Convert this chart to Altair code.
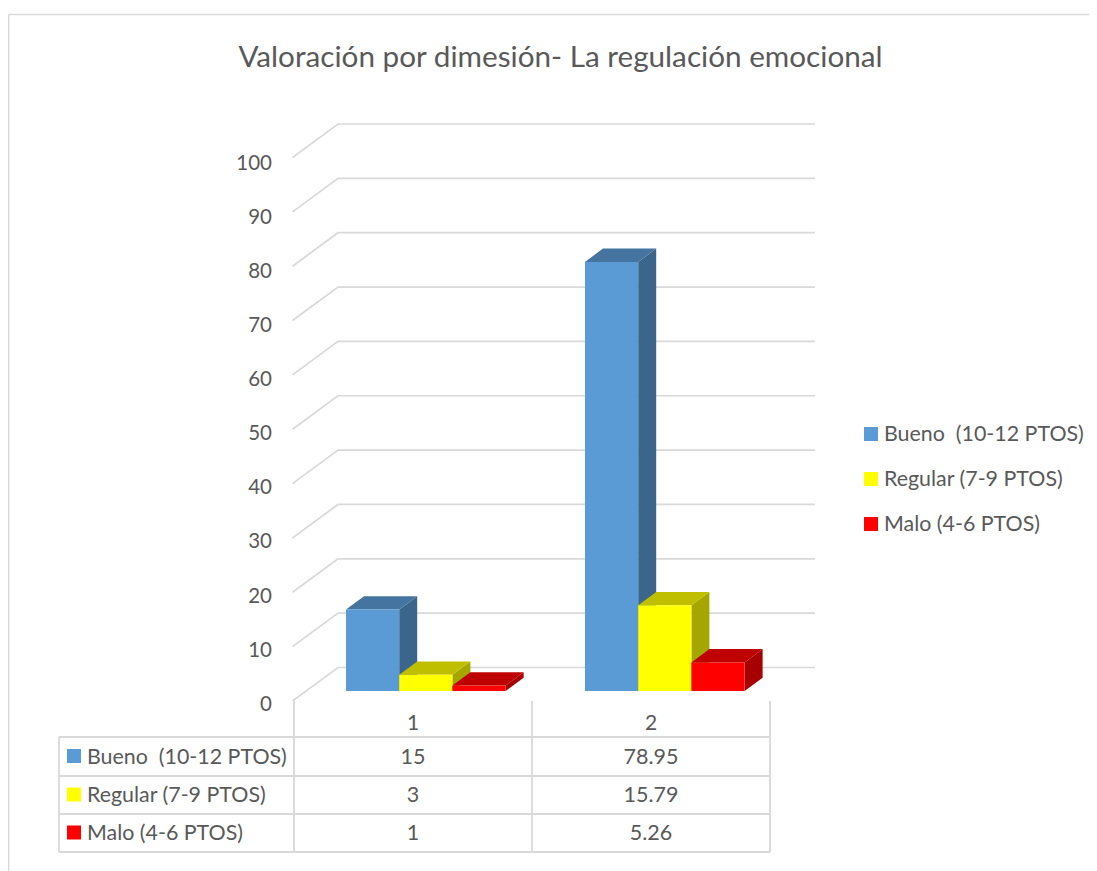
import altair as alt
import pandas as pd

TITLE = "Valoración por dimesión- La regulación emocional"
CATEGORIES = ["1", "2"]
SERIES = ["Bueno \u00a0(10-12 PTOS)", "Regular (7-9 PTOS)", "Malo (4-6 PTOS)"]
VALUES = [[15, 78.95], [3, 15.79], [1, 5.26]]
VALUE_LABELS = [["15", "78.95"], ["3", "15.79"], ["1", "5.26"]]
TICKS = list(range(0, 101, 10))
FRONT = ["#5B9BD5", "#FFFF00", "#FF0000"]
TOP = ["#44749F", "#BFBF00", "#BF0000"]
SIDE = ["#3B658A", "#A6A600", "#A60000"]

GREY = "#D9D9D9"
TXT = "#595959"
FONT = "Lato"

# layout, in page pixels
W, H = 1089, 871
PX_PER_UNIT = 5.435
BASE = 691


def py(p):
    """Value-scale position for a page y pixel."""
    return (BASE - p) / PX_PER_UNIT


DEPTH_X, DEPTH_V = 18, 13.3 / PX_PER_UNIT
BAR_W = 53.2
GROUP_X = [346, 585]
WALL_V = py(667.5)
FRONT_V = py(701)

x_sc = alt.Scale(domain=[8, W], nice=False, zero=False)
y_sc = alt.Scale(domain=[py(H), py(8)], nice=False, zero=False)
X = alt.X("x:Q", scale=x_sc, axis=None)
Y = alt.Y("y:Q", scale=y_sc, axis=None)
X2 = alt.X2("x2:Q")
Y2 = alt.Y2("y2:Q")

# geometry of the bars
fronts, sides, tops = [], [], []
for s, vals in enumerate(VALUES):
    for c, v in enumerate(vals):
        l = GROUP_X[c] + s * BAR_W
        r = l + BAR_W
        pid = f"{s}-{c}"
        fronts.append(dict(x=l, x2=r, y=v, y2=0, fill=FRONT[s]))
        sides += [
            dict(x=r, y=v, y2=0, fill=SIDE[s], pid=pid),
            dict(x=r + DEPTH_X, y=v + DEPTH_V, y2=DEPTH_V, fill=SIDE[s], pid=pid),
        ]
        tops += [
            dict(x=l, y=v, y2=v, fill=TOP[s], pid=pid),
            dict(x=l + DEPTH_X, y=v + DEPTH_V, y2=v, fill=TOP[s], pid=pid),
            dict(x=r, y=v + DEPTH_V, y2=v, fill=TOP[s], pid=pid),
            dict(x=r + DEPTH_X, y=v + DEPTH_V, y2=v + DEPTH_V, fill=TOP[s], pid=pid),
        ]

# gridlines: floor-to-wall diagonal then along the back wall
grid = []
for t in TICKS:
    grid += [
        dict(x=292.5, y=t + FRONT_V, t=t),
        dict(x=338, y=t + WALL_V, t=t),
        dict(x=815, y=t + WALL_V, t=t),
    ]

fill = alt.Color("fill:N", scale=None)
grid_layer = alt.Chart(pd.DataFrame(grid)).mark_line(color=GREY, strokeWidth=1.7).encode(
    x=X, y=Y, detail="t:N", order="x:Q")
side_layer = alt.Chart(pd.DataFrame(sides)).mark_area(orient="vertical").encode(
    x=X, y=Y, y2=Y2, color=fill, detail="pid:N")
top_layer = alt.Chart(pd.DataFrame(tops)).mark_area(orient="vertical").encode(
    x=X, y=Y, y2=Y2, color=fill, detail="pid:N")
front_layer = alt.Chart(pd.DataFrame(fronts)).mark_rect().encode(
    x=X, x2=X2, y=Y, y2=Y2, color=fill)

# table and frame lines
T_X = [59, 294, 532, 770]
T_Y = [737, 776, 814, 852]
rules = [dict(x=xv, x2=xv, y=py(T_Y[0]), y2=py(T_Y[-1])) for xv in T_X]
rules += [dict(x=T_X[0], x2=T_X[-1], y=py(yv), y2=py(yv)) for yv in T_Y]
rules += [dict(x=xv, x2=xv, y=py(701), y2=py(T_Y[0])) for xv in T_X[1:]]
line_layer = alt.Chart(pd.DataFrame(rules)).mark_rule(color=GREY, strokeWidth=1.8).encode(
    x=X, x2=X2, y=Y, y2=Y2)
frame = pd.DataFrame([
    dict(x=8.7, x2=W, y=py(14.5), y2=py(14.5)),
    dict(x=8.7, x2=8.7, y=py(14.5), y2=py(H)),
])
frame_layer = alt.Chart(frame).mark_rule(color=GREY, strokeWidth=1.5).encode(
    x=X, x2=X2, y=Y, y2=Y2)


def text_layer(rows, size, align):
    return alt.Chart(pd.DataFrame(rows)).mark_text(
        font=FONT, fontSize=size, align=align, baseline="middle", color=TXT
    ).encode(x=X, y=Y, text="label:N")


title_layer = text_layer([dict(x=560.5, y=py(58), label=TITLE)], 29.7, "center")
tick_layer = text_layer(
    [dict(x=272, y=py(704.7 - t * 5.41), label=str(t)) for t in TICKS], 20.5, "right")
cat_layer = text_layer(
    [dict(x=xv, y=py(724), label=c) for xv, c in zip([413, 651], CATEGORIES)], 21, "center")
ROW_Y = [758, 796, 834]
val_rows = []
for s, labs in enumerate(VALUE_LABELS):
    for xv, lab in zip([413, 651], labs):
        val_rows.append(dict(x=xv, y=py(ROW_Y[s]), label=lab))
val_layer = text_layer(val_rows, 21.5, "center")
row_layer = text_layer(
    [dict(x=87, y=py(yv), label=n) for yv, n in zip(ROW_Y, SERIES)], 21.4, "left")
LEG_Y = [435, 480, 525]
leg_layer = text_layer(
    [dict(x=884, y=py(yv), label=n) for yv, n in zip(LEG_Y, SERIES)], 21.4, "left")
swatches = [dict(x=74, y=py(yv), fill=f) for yv, f in zip([756, 794.5, 832.5], FRONT)]
swatches += [dict(x=871, y=py(yv), fill=f) for yv, f in zip([434, 479, 524], FRONT)]
swatch_layer = alt.Chart(pd.DataFrame(swatches)).mark_square(size=196, opacity=1).encode(
    x=X, y=Y, color=fill)

chart = alt.layer(
    frame_layer, grid_layer, side_layer, top_layer, front_layer, line_layer,
    swatch_layer, title_layer, tick_layer, cat_layer, val_layer, row_layer, leg_layer,
).properties(
    width=W - 8, height=H - 8, padding=0,
    autosize=alt.AutoSizeParams(type="none"),
).configure_view(stroke=None)

chart.save("out.html", embed_options={"renderer": "svg", "actions": False})
